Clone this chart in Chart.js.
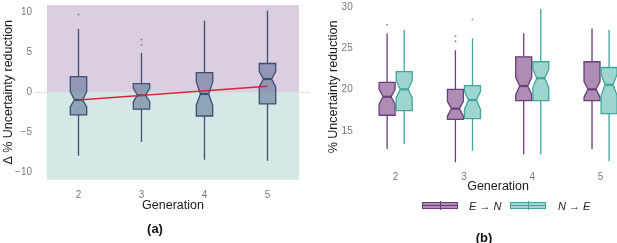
<!DOCTYPE html>
<html><head><meta charset="utf-8">
<script src="https://cdn.jsdelivr.net/npm/chart.js@4"></script>
<style>
html,body{margin:0;padding:0;overflow:hidden;background:#fff}
#wrap{position:relative;width:617px;height:243px;overflow:hidden;font-family:"Liberation Sans",Arial,sans-serif}
#ca{position:absolute;left:0;top:0}
#cb{position:absolute;left:310px;top:0}
.lab{position:absolute;font-weight:bold;font-size:13px;color:#111;transform:translate(-50%,-50%);white-space:nowrap}
.key{position:absolute;box-sizing:border-box;height:7px;width:36px}
.key .h{position:absolute;left:0;right:0;top:2px;height:1px}
.key .v{position:absolute;left:17px;width:1px;top:-2px;height:9px}
.ltxt{position:absolute;font-style:italic;font-size:11px;color:#222;transform:translateY(-50%);white-space:nowrap}
</style></head>
<body>
<div id="wrap">
<canvas id="ca" width="310" height="243"></canvas>
<canvas id="cb" width="330" height="243"></canvas>
<div class="lab" style="left:155px;top:228px">(a)</div>
<div class="lab" style="left:484px;top:237px">(b)</div>
<div class="key" style="left:422px;top:202px;background:#ad8db3;border:1px solid #6c3c7c"><div class="h" style="background:#6c3c7c"></div><div class="v" style="background:#6c3c7c"></div></div>
<div class="ltxt" style="left:469px;top:205.5px">E → N</div>
<div class="key" style="left:510px;top:202px;background:#9ed5cf;border:1px solid #3fa69b"><div class="h" style="background:#3fa69b"></div><div class="v" style="background:#3fa69b"></div></div>
<div class="ltxt" style="left:558px;top:205.5px">N → E</div>
</div>
<script>
// ---------- data ----------
const generations = [2, 3, 4, 5];
const tickLabels = ['2', '3', '4', '5'];
const aTicks = [-10, -5, 0, 5, 10];
const bTicks = [15, 20, 25, 30];

// panel (a): delta % uncertainty reduction
const aQ1 = [-2.8, -2.1, -2.95, -1.45];
const aMed = [-0.95, -0.35, -0.2, 1.66];
const aQ3 = [1.95, 1.1, 2.45, 3.6];
const aLow = [-7.9, -6.2, -8.4, -8.55];
const aHigh = [7.9, 4.9, 8.95, 10.2];
const aNotchLo = [-1.8, -1.15, -1.6, 0.7];
const aNotchHi = [0.1, 0.5, 1.3, 2.6];
const aOutGen = [2, 3, 3];
const aOutVal = [9.7, 6.6, 5.9];
const trendGen = [2, 5];
const trendVal = [-0.95, 0.75];

// panel (b): E -> N
const enQ1 = [16.9, 16.4, 18.67, 18.67];
const enMed = [19.15, 17.7, 20.45, 20.05];
const enQ3 = [20.9, 20.05, 24.0, 23.4];
const enLow = [12.8, 11.2, 12.15, 12.8];
const enHigh = [26.86, 24.8, 26.86, 27.45];
const enNotchLo = [18.25, 16.8, 19.4, 19.1];
const enNotchHi = [20.05, 18.6, 21.5, 21.0];
const enOutGen = [2, 3, 3];
const enOutVal = [27.9, 26.5, 25.9];
// panel (b): N -> E
const neQ1 = [17.45, 16.5, 18.67, 17.1];
const neMed = [20.05, 18.75, 21.4, 20.6];
const neQ3 = [22.2, 20.5, 23.4, 22.7];
const neLow = [13.4, 12.6, 12.15, 11.35];
const neHigh = [27.3, 26.25, 29.8, 27.25];
const neNotchLo = [19.0, 17.6, 20.3, 19.3];
const neNotchHi = [21.1, 19.8, 22.5, 21.9];
const neOutGen = [3];
const neOutVal = [28.55];

// ---------- styles ----------
const FAM = '"Liberation Sans", Arial, sans-serif';
const TICK_COLOR = '#7a7a7a';
const TITLE_COLOR = '#1a1a1a';
const BG_POS = 'rgb(218,206,224)';
const BG_NEG = 'rgb(212,233,230)';
const DODGE = 0.125;

function drawBox(ctx, xs, ys, cx, halfW, s, i) {
  const L = cx - halfW, R = cx + halfW, n = halfW / 2;
  const p = v => ys.getPixelForValue(v);
  const yq1 = p(s.q1[i]), yq3 = p(s.q3[i]), ym = p(s.med[i]);
  const ynl = p(s.nlo[i]), ynh = p(s.nhi[i]);
  ctx.save();
  ctx.strokeStyle = s.stroke;
  ctx.lineWidth = 1.3;
  ctx.beginPath();
  ctx.moveTo(cx, p(s.high[i])); ctx.lineTo(cx, yq3);
  ctx.moveTo(cx, yq1); ctx.lineTo(cx, p(s.low[i]));
  ctx.stroke();
  ctx.beginPath();
  ctx.moveTo(L, yq3); ctx.lineTo(L, ynh); ctx.lineTo(L + n, ym); ctx.lineTo(L, ynl);
  ctx.lineTo(L, yq1); ctx.lineTo(R, yq1); ctx.lineTo(R, ynl); ctx.lineTo(R - n, ym);
  ctx.lineTo(R, ynh); ctx.lineTo(R, yq3); ctx.closePath();
  ctx.fillStyle = s.fill;
  ctx.fill();
  ctx.stroke();
  ctx.lineWidth = 2.2;
  ctx.beginPath();
  ctx.moveTo(L + n, ym); ctx.lineTo(R - n, ym);
  ctx.stroke();
  ctx.restore();
}

const boxPlugin = {
  id: 'boxes',
  beforeDatasetsDraw(chart, args, opts) {
    const ctx = chart.ctx, xs = chart.scales.x, ys = chart.scales.y, ca = chart.chartArea;
    if (opts.bands) {
      const y0 = ys.getPixelForValue(0);
      ctx.save();
      ctx.fillStyle = BG_POS; ctx.fillRect(ca.left, ca.top, ca.right - ca.left, y0 - ca.top);
      ctx.fillStyle = BG_NEG; ctx.fillRect(ca.left, y0, ca.right - ca.left, ca.bottom - y0);
      ctx.strokeStyle = '#dcdcdc'; ctx.lineWidth = 1;
      ctx.beginPath(); ctx.moveTo(ca.left - 12, y0); ctx.lineTo(chart.width, y0); ctx.stroke();
      ctx.restore();
    }
    (opts.series || []).forEach(s => {
      generations.forEach((g, i) => {
        const cx = xs.getPixelForValue(g + s.offset);
        const halfW = xs.getPixelForValue(g + s.offset + s.width / 2) - cx;
        drawBox(ctx, xs, ys, cx, halfW, s, i);
      });
    });
  }
};

function xScale(height, tickPad) {
  return {
    type: 'linear', min: 1.5, max: 5.5,
    grid: { display: false, drawTicks: false }, border: { display: false },
    afterBuildTicks: s => { s.ticks = generations.map(v => ({ value: v })); },
    ticks: { callback: v => tickLabels[generations.indexOf(v)], font: { size: 10, family: FAM }, color: TICK_COLOR, padding: tickPad, maxRotation: 0, autoSkip: false },
    title: { display: true, text: 'Generation', font: { size: 12.5, family: FAM }, color: TITLE_COLOR, padding: { top: 0, bottom: 0 } },
    afterFit: s => { s.height = height; s.paddingLeft = 0; s.paddingRight = 0; }
  };
}
function yScale(min, max, ticks, width, tickPad, title, titlePad) {
  return {
    min: min, max: max,
    grid: { display: false, drawTicks: false }, border: { display: false },
    afterBuildTicks: s => { s.ticks = ticks.map(v => ({ value: v })); },
    ticks: { callback: v => String(v).replace('-', '\u2212'), font: { size: 10, family: FAM }, color: TICK_COLOR, padding: tickPad, autoSkip: false },
    title: { display: true, text: title, font: { size: 12.5, family: FAM }, color: TITLE_COLOR, padding: { top: titlePad, bottom: 0 } },
    afterFit: s => { s.width = width; s.paddingTop = 0; s.paddingBottom = 0; }
  };
}
const pts = (gs, vs, off) => gs.map((g, i) => ({ x: g + off, y: vs[i] }));

new Chart(document.getElementById('ca'), {
  type: 'scatter',
  data: { datasets: [
    { type: 'line', data: pts(trendGen, trendVal, 0), borderColor: '#d62839', borderWidth: 1.5, pointRadius: 0, fill: false },
    { type: 'scatter', data: pts(aOutGen, aOutVal, 0), pointRadius: 1, backgroundColor: '#8a8a95', borderWidth: 0 }
  ] },
  options: {
    responsive: false, animation: false,
    layout: { padding: { left: 0, top: 5, right: 11, bottom: 29.8 } },
    plugins: { legend: { display: false }, tooltip: { enabled: false },
      boxes: { bands: true, series: [
        { q1: aQ1, med: aMed, q3: aQ3, low: aLow, high: aHigh, nlo: aNotchLo, nhi: aNotchHi, offset: 0, width: 0.26, fill: 'rgba(72,95,136,0.5)', stroke: '#3e4f70' }
      ] } },
    scales: {
      x: xScale(33.5, 9.3),
      y: yScale(-10.9, 10.9, aTicks, 47, 15, 'Δ % Uncertainty reduction', 0.6)
    }
  },
  plugins: [boxPlugin]
});

new Chart(document.getElementById('cb'), {
  type: 'scatter',
  data: { datasets: [
    { data: pts(enOutGen, enOutVal, -DODGE), pointRadius: 1, backgroundColor: '#9a8aa0', borderWidth: 0 },
    { data: pts(neOutGen, neOutVal, DODGE), pointRadius: 1, backgroundColor: '#8ab5b0', borderWidth: 0 }
  ] },
  options: {
    responsive: false, animation: false,
    layout: { padding: { left: 0, top: 0, right: 5.3, bottom: 48.8 } },
    plugins: { legend: { display: false }, tooltip: { enabled: false },
      boxes: { bands: false, series: [
        { q1: enQ1, med: enMed, q3: enQ3, low: enLow, high: enHigh, nlo: enNotchLo, nhi: enNotchHi, offset: -DODGE, width: 0.234, fill: '#ad8db3', stroke: '#6c3c7c' },
        { q1: neQ1, med: neMed, q3: neQ3, low: neLow, high: neHigh, nlo: neNotchLo, nhi: neNotchHi, offset: DODGE, width: 0.234, fill: '#9ed5cf', stroke: '#3fa69b' }
      ] } },
    scales: {
      x: xScale(24.4, 1.0),
      y: yScale(10.27, 30.42, bTicks, 51.5, 8.8, '% Uncertainty reduction', 15.6)
    }
  },
  plugins: [boxPlugin]
});
</script>
</body></html>
